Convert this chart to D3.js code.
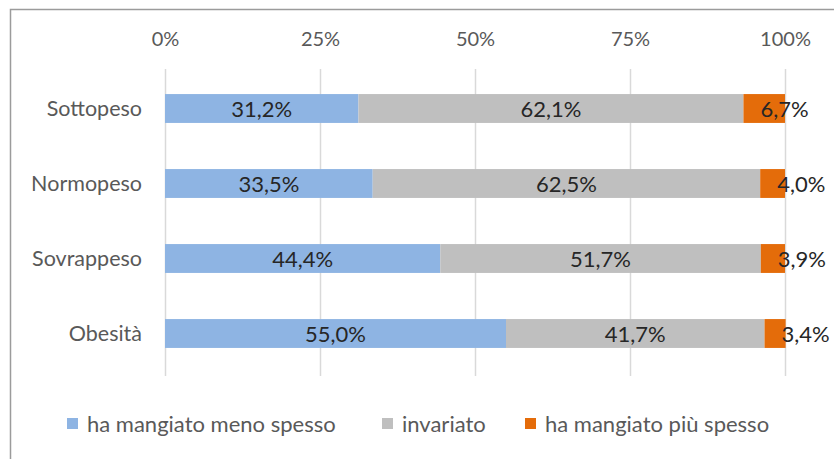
<!DOCTYPE html>
<html>
<head>
<meta charset="utf-8">
<script src="https://cdn.jsdelivr.net/npm/d3@7"></script>
<style>
  html, body { margin: 0; padding: 0; background: #fff; }
  #chart { width: 834px; height: 459px; }
  text { font-family: Lato, "Open Sans", sans-serif; }
</style>
</head>
<body>
<div id="chart"></div>
<script>
const categories = ["Sottopeso", "Normopeso", "Sovrappeso", "Obesità"];
const seriesNames = ["ha mangiato meno spesso", "invariato", "ha mangiato più spesso"];
const meno = [31.2, 33.5, 44.4, 55.0];
const invariato = [62.1, 62.5, 51.7, 41.7];
const piu = [6.7, 4.0, 3.9, 3.4];
const tickValues = [0, 25, 50, 75, 100];
const colors = ["#8eb4e3", "#bfbfbf", "#e46c0a"];

const W = 834, H = 459;
const svg = d3.select("#chart").append("svg")
  .attr("width", W).attr("height", H);

// frame (only left + top edges visible in the crop)
svg.append("path")
  .attr("d", `M10.5,${H} V9.5 H${W}`)
  .attr("fill", "none")
  .attr("stroke", "#9b9b9b")
  .attr("stroke-width", 1.5);

const x = d3.scaleLinear().domain([0, 100]).range([165, 785]);
const y = d3.scaleBand().domain(categories).range([71, 371]).paddingInner(0.615).paddingOuter(0.3075);

// gridlines
svg.append("g")
  .selectAll("line")
  .data(tickValues)
  .join("line")
  .attr("x1", d => x(d) + 0.5).attr("x2", d => x(d) + 0.5)
  .attr("y1", 69).attr("y2", 376)
  .attr("stroke", "#d9d9d9")
  .attr("stroke-width", 1.5);

// top axis labels
const axis = d3.axisTop(x).tickValues(tickValues).tickFormat(d => d + "%").tickSize(0).tickPadding(0);
svg.append("g")
  .attr("transform", "translate(0,46)")
  .call(axis)
  .call(g => g.select(".domain").remove())
  .call(g => g.attr("font-family", null).attr("font-size", null))
  .selectAll("text")
  .attr("font-size", 20)
  .attr("fill", "#595959")
  .attr("dy", 0);

// category labels
svg.append("g")
  .selectAll("text")
  .data(categories)
  .join("text")
  .attr("x", 142)
  .attr("y", d => y(d) + y.bandwidth() / 2)
  .attr("dy", "0.35em")
  .attr("text-anchor", "end")
  .attr("font-size", 21.5)
  .attr("fill", "#595959")
  .text(d => d);

// stacked data
const rows = categories.map((c, i) => ({ cat: c, s0: meno[i], s1: invariato[i], s2: piu[i] }));
const stack = d3.stack().keys(["s0", "s1", "s2"])(rows);

const layers = svg.append("g")
  .selectAll("g")
  .data(stack)
  .join("g")
  .attr("fill", (d, i) => colors[i]);

layers.selectAll("rect")
  .data(d => d)
  .join("rect")
  .attr("x", d => x(d[0]))
  .attr("width", d => x(d[1]) - x(d[0]))
  .attr("y", d => y(d.data.cat))
  .attr("height", y.bandwidth());

const fmt = v => v.toFixed(1).replace(".", ",") + "%";

// value labels
stack.forEach((layer, i) => {
  svg.append("g")
    .selectAll("text")
    .data(layer)
    .join("text")
    .attr("x", d => i < 2 ? x((d[0] + d[1]) / 2) : x(d[0]) + 17)
    .attr("y", d => y(d.data.cat) + y.bandwidth() / 2)
    .attr("dy", "0.37em")
    .attr("text-anchor", i < 2 ? "middle" : "start")
    .attr("font-size", 22)
    .attr("fill", "#262626")
    .text(d => fmt(d[1] - d[0]));
});

// legend
const legendItems = [
  { name: seriesNames[0], color: colors[0], x: 67 },
  { name: seriesNames[1], color: colors[1], x: 382 },
  { name: seriesNames[2], color: colors[2], x: 525 }
];
const lg = svg.append("g").selectAll("g")
  .data(legendItems)
  .join("g")
  .attr("transform", d => `translate(${d.x},424)`);
lg.append("rect")
  .attr("x", 0).attr("y", -6)
  .attr("width", 11).attr("height", 11)
  .attr("fill", d => d.color);
lg.append("text")
  .attr("x", 20).attr("y", 0)
  .attr("dy", "0.35em")
  .attr("font-size", 22)
  .attr("fill", "#595959")
  .text(d => d.name);
</script>
</body>
</html>
